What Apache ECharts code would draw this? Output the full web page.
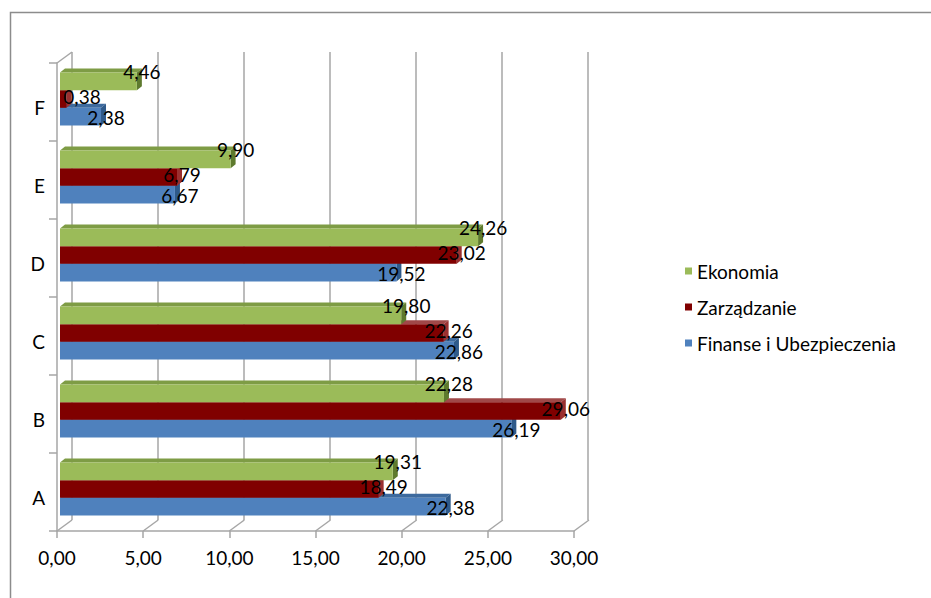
<!DOCTYPE html>
<html><head><meta charset="utf-8">
<script src="https://cdn.jsdelivr.net/npm/echarts@6/dist/echarts.min.js"></script>
<style>html,body{margin:0;padding:0;background:#fff}#c{width:931px;height:598px}</style>
</head><body><div id="c"></div>
<script>
var categories = ['A', 'B', 'C', 'D', 'E', 'F'];
var ekonomia = [19.31, 22.28, 19.80, 24.26, 9.90, 4.46];
var zarzadzanie = [18.49, 29.06, 22.26, 23.02, 6.79, 0.38];
var finanse = [22.38, 26.19, 22.86, 19.52, 6.67, 2.38];
var seriesNames = ['Ekonomia', 'Zarządzanie', 'Finanse i Ubezpieczenia'];
var axisMin = 0, axisMax = 30, axisStep = 5;
var axisTicks = [0, 5, 10, 15, 20, 25, 30];

var FONT = 'Lato';
var FS = 19;
var GRAY = '#a6a6a6';
var DEPTH = [15, -11];
var BAR_SHIFT = [3, -3];
var BAR_DEPTH = [5, -4];
var BAR_FRAC = 0.2265;

function fmt(v) { return v.toFixed(2).replace('.', ','); }
function toRows(vals) { return vals.map(function (v, i) { return [i, v]; }); }

function barRender(slot, col, labelDy) {
  return function (params, api) {
    var ci = api.value(0), v = api.value(1);
    var p0 = api.coord([0, ci]), p1 = api.coord([v, ci]);
    var band = api.size([0, 1])[1];
    var bh = band * BAR_FRAC;
    var y0 = p0[1] - 1.5 * bh + slot * bh + BAR_SHIFT[1];
    var x0 = p0[0] + BAR_SHIFT[0], x1 = p1[0] + BAR_SHIFT[0];
    var dx = BAR_DEPTH[0], dy = BAR_DEPTH[1];
    var lx = Math.max(x1 + 5, x0 + 22);
    return {
      type: 'group', children: [
        { type: 'polygon', shape: { points: [[x0, y0], [x1, y0], [x1 + dx, y0 + dy], [x0 + dx, y0 + dy]] }, style: { fill: col.top } },
        { type: 'polygon', shape: { points: [[x1, y0], [x1 + dx, y0 + dy], [x1 + dx, y0 + dy + bh], [x1, y0 + bh]] }, style: { fill: col.side } },
        { type: 'rect', shape: { x: x0, y: y0, width: x1 - x0, height: bh }, style: { fill: col.front } },
        { type: 'text', z2: 100, style: { text: fmt(v), x: lx, y: y0 + bh / 2 + labelDy, align: 'center', verticalAlign: 'middle', font: FS + 'px ' + FONT, fill: '#000' } }
      ]
    };
  };
}

function wallRender(params, api) {
  var t = api.value(0);
  var cs = params.coordSys;
  var x = api.coord([t, 0])[0];
  var bottom = cs.y + cs.height, top = cs.y;
  var children = [
    { type: 'line', shape: { x1: x, y1: bottom, x2: x + DEPTH[0], y2: bottom + DEPTH[1] }, style: { stroke: GRAY, lineWidth: 1.5 } }
  ];
  if (params.dataIndex === 0) {
    children.push({ type: 'line', shape: { x1: x, y1: top, x2: x + DEPTH[0], y2: top + DEPTH[1] }, style: { stroke: GRAY, lineWidth: 1.5 } });
  }
  return { type: 'group', children: children };
}

var colors = {
  eko: { front: '#9BBB59', top: '#7E9C45', side: '#5E7A2E' },
  zar: { front: '#800000', top: '#A04848', side: '#9A3030' },
  fin: { front: '#4F81BD', top: '#3D6A9E', side: '#2F5A8A' }
};

var chart = echarts.init(document.getElementById('c'), null, { renderer: 'svg' });
chart.setOption({
  animation: false,
  backgroundColor: '#fff',
  graphic: [{
    type: 'rect', silent: true,
    shape: { x: 10.5, y: 12.5, width: 1000, height: 1000 },
    style: { fill: 'none', stroke: '#8c8c8c', lineWidth: 1.5 }
  }],
  legend: {
    data: seriesNames, orient: 'vertical', left: 680, top: 256,
    icon: 'rect', itemWidth: 7, itemHeight: 7, itemGap: 16,
    textStyle: { fontFamily: FONT, fontSize: FS, color: '#000', lineHeight: 20 }
  },
  grid: [
    { left: 57, right: 357, top: 63, bottom: 67 },
    { left: 72, right: 343, top: 52, bottom: 78 }
  ],
  xAxis: [
    {
      gridIndex: 0, type: 'value', min: axisMin, max: axisMax, interval: axisStep,
      axisLine: { show: true, lineStyle: { color: GRAY, width: 1.5 } },
      axisTick: { show: true, length: 7, lineStyle: { color: GRAY, width: 1.5 } },
      axisLabel: { formatter: function (v) { return fmt(v); }, fontFamily: FONT, fontSize: FS, color: '#000', margin: 17 },
      splitLine: { show: false }
    },
    {
      gridIndex: 1, type: 'value', min: axisMin, max: axisMax, interval: axisStep,
      axisLine: { show: false }, axisTick: { show: false }, axisLabel: { show: false },
      splitLine: { show: true, lineStyle: { color: GRAY, width: 1.5 } }
    }
  ],
  yAxis: [
    {
      gridIndex: 0, type: 'category', data: categories,
      axisLine: { show: true, lineStyle: { color: GRAY, width: 1.5 } },
      axisTick: { show: true, length: 8, lineStyle: { color: GRAY, width: 1.5 } },
      axisLabel: { fontFamily: FONT, fontSize: FS, color: '#000', margin: 12, verticalAlign: 'top', lineHeight: 10 }
    },
    { gridIndex: 1, type: 'category', data: categories, show: false }
  ],
  series: [
    {
      type: 'custom', silent: true, xAxisIndex: 0, yAxisIndex: 0,
      data: axisTicks.map(function (t) { return [t, 0]; }),
      encode: { x: 0, y: 1 }, renderItem: wallRender
    },
    {
      name: seriesNames[2], type: 'custom', xAxisIndex: 0, yAxisIndex: 0,
      itemStyle: { color: colors.fin.front },
      data: toRows(finanse), encode: { x: 1, y: 0 },
      renderItem: barRender(2, colors.fin, 1)
    },
    {
      name: seriesNames[1], type: 'custom', xAxisIndex: 0, yAxisIndex: 0,
      itemStyle: { color: colors.zar.front },
      data: toRows(zarzadzanie), encode: { x: 1, y: 0 },
      renderItem: barRender(1, colors.zar, -3)
    },
    {
      name: seriesNames[0], type: 'custom', xAxisIndex: 0, yAxisIndex: 0,
      itemStyle: { color: colors.eko.front },
      data: toRows(ekonomia), encode: { x: 1, y: 0 },
      renderItem: barRender(0, colors.eko, -10)
    }
  ]
});
</script></body></html>
